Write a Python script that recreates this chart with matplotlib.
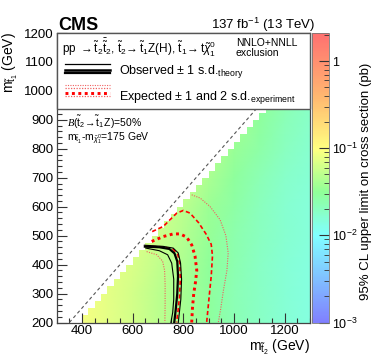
import numpy as np
import matplotlib
matplotlib.use("Agg")
import matplotlib.pyplot as plt
from matplotlib.colors import LinearSegmentedColormap, LogNorm
from matplotlib.patches import Polygon, Rectangle
from matplotlib.ticker import MultipleLocator, NullFormatter, FixedLocator

plt.rcParams['font.family'] = ['Liberation Sans', 'DejaVu Sans']
plt.rcParams['mathtext.fontset'] = 'custom'
plt.rcParams['mathtext.rm'] = 'Liberation Sans'
plt.rcParams['mathtext.it'] = 'Liberation Sans:italic'
plt.rcParams['mathtext.bf'] = 'Liberation Sans:bold'
plt.rcParams['mathtext.cal'] = 'Liberation Serif:italic'

# ---------------- data ----------------
m_t2_nodes = [300, 400, 500, 600, 700, 800, 900, 1000, 1100, 1200, 1300]
m_t1_nodes = [200, 300, 400, 500, 600, 700, 800, 900, 1000, 1100, 1200]
# 95% CL upper limit (pb) at nodes, rows = m_t1, cols = m_t2
limit_200 = [0.100, 0.090, 0.075, 0.062, 0.050, 0.040, 0.030, 0.023, 0.019, 0.016, 0.014]
limit_300 = [0.100, 0.090, 0.075, 0.062, 0.050, 0.040, 0.030, 0.023, 0.019, 0.016, 0.014]
limit_400 = [0.100, 0.090, 0.078, 0.066, 0.053, 0.042, 0.031, 0.024, 0.019, 0.016, 0.014]
limit_500 = [0.100, 0.090, 0.080, 0.070, 0.058, 0.045, 0.033, 0.025, 0.020, 0.017, 0.015]
limit_600 = [0.100, 0.090, 0.080, 0.070, 0.065, 0.050, 0.036, 0.027, 0.021, 0.017, 0.015]
limit_700 = [0.100, 0.090, 0.080, 0.070, 0.065, 0.060, 0.041, 0.030, 0.023, 0.018, 0.016]
limit_800 = [0.100, 0.090, 0.080, 0.070, 0.065, 0.060, 0.050, 0.035, 0.026, 0.020, 0.017]
limit_900 = [0.100, 0.090, 0.080, 0.070, 0.065, 0.060, 0.055, 0.042, 0.030, 0.022, 0.018]
limit_1000 = [0.100, 0.090, 0.080, 0.070, 0.065, 0.060, 0.055, 0.050, 0.035, 0.025, 0.019]
limit_1100 = [0.100, 0.090, 0.080, 0.070, 0.065, 0.060, 0.055, 0.050, 0.045, 0.030, 0.021]
limit_1200 = [0.100, 0.090, 0.080, 0.070, 0.065, 0.060, 0.055, 0.050, 0.045, 0.040, 0.025]
limit_rows = [limit_200, limit_300, limit_400, limit_500, limit_600, limit_700,
              limit_800, limit_900, limit_1000, limit_1100, limit_1200]

bin_width = 25
min_mass_gap = 200     # filled bins: m_t2 - m_t1 >= gap
diag_gap = 150         # dashed kinematic line m_t1 = m_t2 - gap

obs_x = [648, 705, 745, 765, 776, 779, 776, 770, 764]
obs_y = [462, 460, 454, 439, 411, 360, 300, 245, 200]
obs_up_x = [646, 720, 760, 780, 789, 793, 790, 785, 780]
obs_up_y = [467, 463, 457, 440, 405, 350, 280, 240, 200]
obs_dn_x = [652, 705, 738, 754, 762, 762, 758, 751]
obs_dn_y = [457, 448, 434, 405, 350, 280, 235, 200]

exp_x = [675, 721, 760, 787, 813, 833, 846, 853, 848, 841, 836, 833]
exp_y = [480, 497, 506, 506, 495, 468, 430, 380, 340, 300, 250, 200]
exp_dn_x = [650, 720, 760, 778, 786, 788, 785, 779, 773]
exp_dn_y = [464, 461, 453, 434, 405, 350, 290, 240, 200]
exp_up_x = [677, 721, 774, 800, 826, 860, 890, 910, 915, 910, 902, 892]
exp_up_y = [514, 532, 578, 587, 578, 545, 505, 470, 430, 360, 290, 200]
exp_dn2_x = [655, 695, 718, 726, 728, 728, 727]
exp_dn2_y = [445, 434, 412, 380, 330, 260, 200]
exp_up2_x = [833, 866, 905, 945, 968, 977, 972, 958, 948, 938]
exp_up2_y = [641, 630, 601, 555, 500, 440, 380, 310, 250, 200]

cbar_ticks = [1e-3, 1e-2, 1e-1, 1]
cbar_ticklabels = [r'$10^{-3}$', r'$10^{-2}$', r'$10^{-1}$', '1']
z_min, z_max = 1e-3, 2.1

# ---------------- figure ----------------
W, H = 374, 363
fig = plt.figure(figsize=(W / 100, H / 100), dpi=100)
ax_l, ax_r, ax_t, ax_b = 56.7, 310.0, 33.0, 322.5
ax = fig.add_axes([ax_l / W, 1 - ax_b / H, (ax_r - ax_l) / W, (ax_b - ax_t) / H])

cmap = LinearSegmentedColormap.from_list('rootpastel', [
    (0.00, '#8080ff'),
    (0.15, '#80c0ff'),
    (0.30, '#80ffff'),
    (0.45, '#90ff98'),
    (0.60, '#ffff80'),
    (0.78, '#ffb870'),
    (1.00, '#ff7070'),
])
norm = LogNorm(vmin=z_min, vmax=z_max)

X, Y = np.meshgrid(m_t2_nodes, m_t1_nodes)
Z = np.array(limit_rows)
mesh = ax.pcolormesh(X, Y, Z, cmap=cmap, norm=norm, shading='gouraud', zorder=1)

# staircase clip region from the binning
x_max = m_t2_nodes[-1]
verts = [(x_max, m_t1_nodes[0])]
for y0 in np.arange(m_t1_nodes[0], m_t1_nodes[-1], bin_width):
    xl = y0 + min_mass_gap
    if xl >= x_max:
        verts.append((x_max, y0))
        break
    verts.append((xl, y0))
    verts.append((xl, y0 + bin_width))
clip = Polygon(verts, closed=True, transform=ax.transData)
mesh.set_clip_path(clip)

dx = np.array([m_t1_nodes[0] + diag_gap, x_max])
ax.plot(dx, dx - diag_gap, color='#555555', lw=0.8, ls=(0, (3, 2.5)), zorder=2)

red = '#ff0000'
ax.plot(exp_dn2_x, exp_dn2_y, color='#f06060', lw=0.8, ls=(0, (1, 1.2)), zorder=3)
ax.plot(exp_up2_x, exp_up2_y, color='#f06060', lw=0.8, ls=(0, (1, 1.2)), zorder=3)
ax.plot(exp_dn_x, exp_dn_y, color=red, lw=1.2, ls=(0, (2.5, 1.6)), zorder=3)
ax.plot(exp_up_x, exp_up_y, color=red, lw=1.2, ls=(0, (2.5, 1.6)), zorder=3)
ax.plot(obs_up_x, obs_up_y, color='black', lw=0.8, zorder=4)
ax.plot(obs_dn_x, obs_dn_y, color='black', lw=0.8, zorder=4)
ax.plot(obs_x, obs_y, color='black', lw=1.6, zorder=4)
ax.plot(exp_x, exp_y, color=red, lw=2.1, ls=(0, (1, 1.2)), zorder=5)

ax.set_xlim(m_t2_nodes[0], m_t2_nodes[-1])
ax.set_ylim(m_t1_nodes[0], m_t1_nodes[-1])
ax.xaxis.set_major_locator(FixedLocator([400, 600, 800, 1000, 1200]))
ax.xaxis.set_minor_locator(MultipleLocator(50))
ax.yaxis.set_major_locator(MultipleLocator(100))
ax.yaxis.set_minor_locator(MultipleLocator(20))
ax.tick_params(which='both', direction='in', top=False, right=False, labelsize=9.5,
               width=0.8, colors='#333333', labelcolor='black')
ax.tick_params(which='major', length=7, pad=2)
ax.tick_params(which='minor', length=3.5)
for s in ax.spines.values():
    s.set_linewidth(0.9)
    s.set_color('#444444')

# legend box
def px2ax(px, py):
    return (px - ax_l) / (ax_r - ax_l), (ax_b - py) / (ax_b - ax_t)

lx0, ly0 = px2ax(ax_l, 109)
ax.add_patch(Rectangle((0, ly0), 1, 1 - ly0, transform=ax.transAxes, facecolor='white',
                       edgecolor='#555555', lw=1.0, zorder=10, clip_on=False))
tx, ty = px2ax(62, 48)
ax.text(tx, ty, r'pp $\rightarrow\tilde{\mathrm{t}}_{2}\bar{\tilde{\mathrm{t}}}_{2}$, '
        r'$\tilde{\mathrm{t}}_{2}\!\rightarrow\tilde{\mathrm{t}}_{1}$Z(H), '
        r'$\tilde{\mathrm{t}}_{1}\!\rightarrow\mathrm{t}\tilde{\chi}^{0}_{1}$',
        transform=ax.transAxes, fontsize=8.5, va='center', ha='left', zorder=11)
tx, ty = px2ax(236, 43)
ax.text(tx, ty, 'NNLO+NNLL', transform=ax.transAxes, fontsize=7.5, va='center', zorder=11)
tx, ty = px2ax(236, 53.5)
ax.text(tx, ty, 'exclusion', transform=ax.transAxes, fontsize=7.5, va='center', zorder=11)

sx0, _ = px2ax(65, 0)
sx1, _ = px2ax(110, 0)
for py, lw in [(64, 0.9), (70, 1.8), (72.8, 1.6)]:
    _, yy = px2ax(0, py)
    ax.plot([sx0, sx1], [yy, yy], transform=ax.transAxes, color='black', lw=lw, zorder=11,
            clip_on=False)
tx, ty = px2ax(119, 72)
ax.text(tx, ty, r'Observed $\pm$ 1 s.d.$_{\mathrm{theory}}$', transform=ax.transAxes,
        fontsize=9, va='center', zorder=11)
for py, lw, col, ls in [(85, 0.8, '#f06060', (0, (1, 1.2))),
                        (88, 0.9, '#f06060', (0, (1, 1.2))),
                        (92.5, 2.1, red, (0, (1, 1.2))),
                        (95.5, 0.9, '#f06060', (0, (1, 1.2)))]:
    _, yy = px2ax(0, py)
    ax.plot([sx0, sx1], [yy, yy], transform=ax.transAxes, color=col, lw=lw, ls=ls,
            zorder=11, clip_on=False)
tx, ty = px2ax(119, 98)
ax.text(tx, ty, r'Expected $\pm$ 1 and 2 s.d.$_{\mathrm{experiment}}$', transform=ax.transAxes,
        fontsize=9, va='center', zorder=11)

tx, ty = px2ax(67, 122)
ax.text(tx, ty, r'$\mathcal{B}(\tilde{\mathrm{t}}_{2}\!\rightarrow\!\tilde{\mathrm{t}}_{1}\,\mathrm{Z})$=50%',
        transform=ax.transAxes, fontsize=7.5, va='center', zorder=11)
tx, ty = px2ax(67, 138)
ax.text(tx, ty, r'$\mathrm{m}_{\tilde{\mathrm{t}}_{1}}$-$\mathrm{m}_{\tilde{\chi}^{0}_{1}}$=175 GeV',
        transform=ax.transAxes, fontsize=7.5, va='center', zorder=11)

# colorbar
cax = fig.add_axes([312 / W, 1 - ax_b / H, 17 / W, (ax_b - ax_t) / H])
cb = fig.colorbar(mesh, cax=cax)
cb.set_ticks(cbar_ticks)
cb.set_ticklabels(cbar_ticklabels)
cax.yaxis.set_minor_formatter(NullFormatter())
cax.tick_params(which='both', direction='in', right=True, left=False, labelsize=9,
                colors='#333333', labelcolor='black', pad=2)
cax.tick_params(which='major', length=7)
cax.tick_params(which='minor', length=3.5)
cb.outline.set_linewidth(0.6)
cb.outline.set_edgecolor('#777777')

# labels
fig.text(58 / W, 1 - 29.5 / H, 'CMS', fontsize=13, fontweight='bold', ha='left', va='baseline')
fig.text(315 / W, 1 - 29.5 / H, r'137 fb$^{-1}$ (13 TeV)', fontsize=9.5, ha='right', va='baseline')
fig.text(10 / W, 1 - 32 / H, r'$\mathrm{m}_{\tilde{\mathrm{t}}_{1}}$ (GeV)', rotation=90,
         fontsize=10, ha='center', va='top')
fig.text(310 / W, 1 - 347 / H, r'$\mathrm{m}_{\tilde{\mathrm{t}}_{2}}$ (GeV)', fontsize=10,
         ha='right', va='center')
fig.text(366 / W, 1 - 181 / H, '95% CL upper limit on cross section (pb)', rotation=90,
         fontsize=9.5, ha='center', va='center')

fig.savefig('out.png', dpi=100)
